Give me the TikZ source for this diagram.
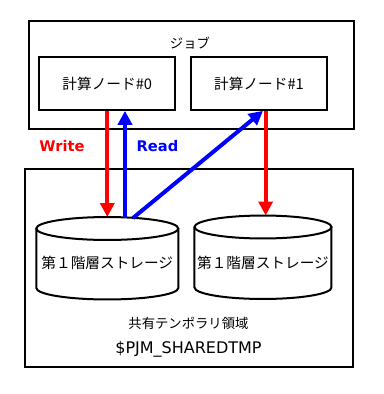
\documentclass[tikz,border=0pt]{standalone}
\usepackage{fontspec}
\setmainfont{DejaVu Sans}
\newfontfamily\jp{Noto Sans CJK JP}
\usetikzlibrary{arrows.meta}

\begin{document}
\begin{tikzpicture}[x=0.75pt,y=-0.75pt,
    box/.style={draw, line width=1.5pt, inner sep=0pt},
    jtext/.style={font=\jp\fontsize{10}{12}\selectfont},
    wr/.style={red, line width=3pt, -{Triangle[length=10.5pt,width=10.5pt]}},
    rd/.style={blue, line width=3pt, -{Triangle[length=10.5pt,width=10.5pt]}}]
    \useasboundingbox (0,0) rectangle (384,394);

    \node[box, minimum width=243.75pt, minimum height=81pt] (job) at (191.5,75) {};
    \node[jtext] (joblabel) at (190,43) {ジョブ};
    \node[box, jtext, font=\jp\fontsize{11}{13}\selectfont, minimum width=102pt, minimum height=39.5pt] (n0) at (107.3,83.5) {計算ノード\#0};
    \node[box, jtext, font=\jp\fontsize{11}{13}\selectfont, minimum width=102pt, minimum height=39.5pt] (n1) at (259,83.5) {計算ノード\#1};

    \node[box, minimum width=246pt, minimum height=148.5pt] (shared) at (189,268) {};

    \foreach \nm/\cx/\rx/\ty/\by/\ly in {st0/107.3/71/228.5/288/262.5, st1/263/68.5/227/287.5/263} {
        \draw[line width=1.5pt] (\cx,\ty) ellipse [x radius={\rx*0.75pt}, y radius=8.6pt];
        \draw[line width=1.5pt] (\cx-\rx,\ty) -- (\cx-\rx,\by)
            arc[start angle=180, end angle=360, x radius={\rx*0.75pt}, y radius=8.6pt] -- (\cx+\rx,\ty);
        \coordinate (\nm top) at (\cx,\ty-11.5);
        \node[font=\jp\fontsize{11}{13}\selectfont] (\nm) at (\cx,\ly) {第１階層ストレージ};
    }

    \node[jtext] (sharedlabel) at (188.5,323) {共有テンポラリ領域};
    \node[font=\fontsize{12}{14}\selectfont] (envlabel) at (188.5,349) {\$PJM\_SHAREDTMP};

    \coordinate (r0) at (125,217.5);
    \coordinate (r1) at (133,218);

    \draw[wr] (n0.south) -- (st0top);
    \draw[rd] (r0) -- (r0 |- n0.south);
    \draw[rd] (r1) -- ([xshift=3pt]n1.south);
    \draw[wr] ([xshift=5pt]n1.south) -- ([xshift=2pt]st1top);

    \node[font=\fontsize{11}{13}\selectfont\bfseries, text=red] (wlabel) at (62,146) {Write};
    \node[font=\fontsize{11}{13}\selectfont\bfseries, text=blue] (rlabel) at (157.5,146) {Read};
\end{tikzpicture}
\end{document}
